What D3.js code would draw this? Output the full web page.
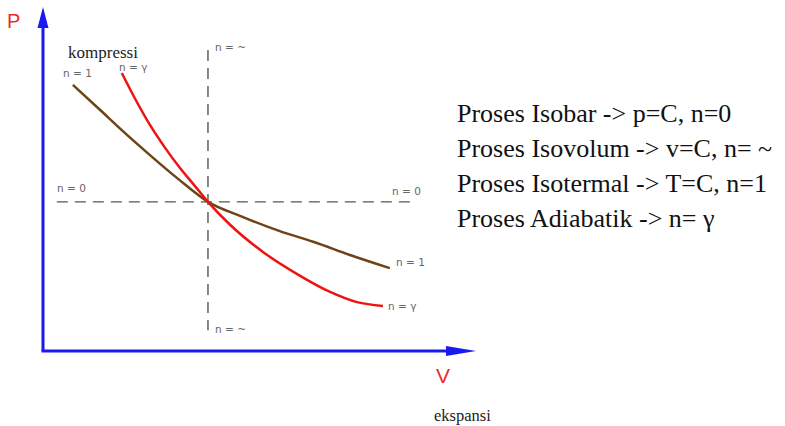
<!DOCTYPE html>
<html>
<head>
<meta charset="utf-8">
<script src="https://cdn.jsdelivr.net/npm/d3@7"></script>
<style>
  body { margin: 0; background: #fff; }
  svg { display: block; }
</style>
</head>
<body>
<div id="chart"></div>
<script>
// ----------------------------------------
// DATA (V, P)
// ----------------------------------------
const isotermV = [0.69, 1.32, 1.87, 2.47, 3.12, 3.81, 4.55, 5.47, 6.24, 7.09, 8.01];
const isotermP = [6.26, 5.67, 5.15, 4.61, 4.05, 3.51, 3.18, 2.82, 2.57, 2.26, 1.95];

const adiabatV = [1.82, 2.13, 2.47, 2.82, 3.16, 3.51, 3.81, 4.32, 5.08, 5.87, 6.63, 7.25, 7.85];
const adiabatP = [6.54, 5.93, 5.32, 4.78, 4.31, 3.88, 3.51, 2.97, 2.33, 1.81, 1.39, 1.15, 1.06];

const stateV = 3.81, stateP = 3.51;          // titik potong
const isobarRange = [0.32, 8.48];            // garis n = 0
const isovolumRange = [0.49, 7.08];          // garis n = ~

const legendLines = [
  "Proses Isobar -> p=C, n=0",
  "Proses Isovolum -> v=C, n= ~",
  "Proses Isotermal -> T=C, n=1",
  "Proses Adiabatik -> n= \u03b3"
];

// ----------------------------------------
// SETUP
// ----------------------------------------
const width = 785, height = 426;

const svg = d3.select("#chart")
  .append("svg")
  .attr("width", width)
  .attr("height", height);

const x = d3.scaleLinear().domain([0, 10]).range([43, 476]);
const y = d3.scaleLinear().domain([0, 8]).range([351, 11]);

const axisColor = "#1a1af0";
const dashColor = "#555";
const labelColor = "#666";

// ----------------------------------------
// DASHED REFERENCE LINES
// ----------------------------------------
svg.append("line")
  .attr("x1", x(isobarRange[0])).attr("x2", x(isobarRange[1]))
  .attr("y1", y(stateP)).attr("y2", y(stateP))
  .attr("stroke", dashColor)
  .attr("stroke-width", 1.4)
  .attr("stroke-dasharray", "11,7");

svg.append("line")
  .attr("x1", x(stateV)).attr("x2", x(stateV))
  .attr("y1", y(isovolumRange[1])).attr("y2", y(isovolumRange[0]))
  .attr("stroke", dashColor)
  .attr("stroke-width", 1.4)
  .attr("stroke-dasharray", "11,7");

// ----------------------------------------
// CURVES
// ----------------------------------------
const line = d3.line()
  .x(d => x(d[0]))
  .y(d => y(d[1]))
  .curve(d3.curveMonotoneX);

svg.append("path")
  .datum(d3.zip(isotermV, isotermP))
  .attr("fill", "none")
  .attr("stroke", "#6e4416")
  .attr("stroke-width", 2.5)
  .attr("d", line);

svg.append("path")
  .datum(d3.zip(adiabatV, adiabatP))
  .attr("fill", "none")
  .attr("stroke", "#f01212")
  .attr("stroke-width", 2.5)
  .attr("d", line);

// ----------------------------------------
// AXES (blue arrows)
// ----------------------------------------
svg.append("line")
  .attr("x1", x(0)).attr("x2", x(0))
  .attr("y1", y(0)).attr("y2", y(7.6))
  .attr("stroke", axisColor)
  .attr("stroke-width", 3);

svg.append("line")
  .attr("x1", x(0) - 1.5).attr("x2", x(9.4))
  .attr("y1", y(0)).attr("y2", y(0))
  .attr("stroke", axisColor)
  .attr("stroke-width", 3);

// arrow heads
const yTop = y(8) - 4;
svg.append("path")
  .attr("d", `M${x(0)},${yTop} L${x(0) - 5.5},${yTop + 21} L${x(0) + 5.5},${yTop + 21} Z`)
  .attr("fill", axisColor);

const xEnd = x(10);
svg.append("path")
  .attr("d", `M${xEnd},${y(0)} L${xEnd - 30},${y(0) - 5} L${xEnd - 30},${y(0) + 5} Z`)
  .attr("fill", axisColor);

// ----------------------------------------
// AXIS LABELS
// ----------------------------------------
svg.append("text")
  .attr("x", 7).attr("y", 28)
  .attr("fill", "#ee2a2a")
  .style("font-family", "Liberation Sans, Arial, sans-serif")
  .style("font-size", "20px")
  .text("P");

svg.append("text")
  .attr("x", 436).attr("y", 383)
  .attr("fill", "#ee2a2a")
  .style("font-family", "Liberation Sans, Arial, sans-serif")
  .style("font-size", "21px")
  .text("V");

svg.append("text")
  .attr("x", 434).attr("y", 421)
  .attr("fill", "#222")
  .style("font-family", "Liberation Serif, Times New Roman, serif")
  .style("font-size", "16.5px")
  .text("ekspansi");

svg.append("text")
  .attr("x", 68).attr("y", 58)
  .attr("fill", "#222")
  .style("font-family", "Liberation Serif, Times New Roman, serif")
  .style("font-size", "17px")
  .text("kompressi");

// ----------------------------------------
// CURVE LABELS
// ----------------------------------------
const curveLabels = [
  { t: "n = 1", x: 63, y: 77 },
  { t: "n = \u03b3", x: 119, y: 71 },
  { t: "n = ~", x: 215, y: 51 },
  { t: "n = 0", x: 57, y: 192 },
  { t: "n = 0", x: 392, y: 195 },
  { t: "n = 1", x: 396, y: 266 },
  { t: "n = \u03b3", x: 388, y: 310 },
  { t: "n = ~", x: 215, y: 333 }
];

svg.selectAll(".n-label")
  .data(curveLabels)
  .join("text")
  .attr("class", "n-label")
  .attr("x", d => d.x)
  .attr("y", d => d.y)
  .attr("fill", labelColor)
  .style("font-family", "DejaVu Sans, sans-serif")
  .style("font-size", "10.5px")
  .text(d => d.t);

// ----------------------------------------
// LEGEND TEXT
// ----------------------------------------
svg.selectAll(".legend")
  .data(legendLines)
  .join("text")
  .attr("class", "legend")
  .attr("x", 457)
  .attr("y", (d, i) => 122 + i * 35)
  .attr("fill", "#111")
  .style("font-family", "Liberation Serif, Times New Roman, serif")
  .style("font-size", "26px")
  .text(d => d);
</script>
</body>
</html>
